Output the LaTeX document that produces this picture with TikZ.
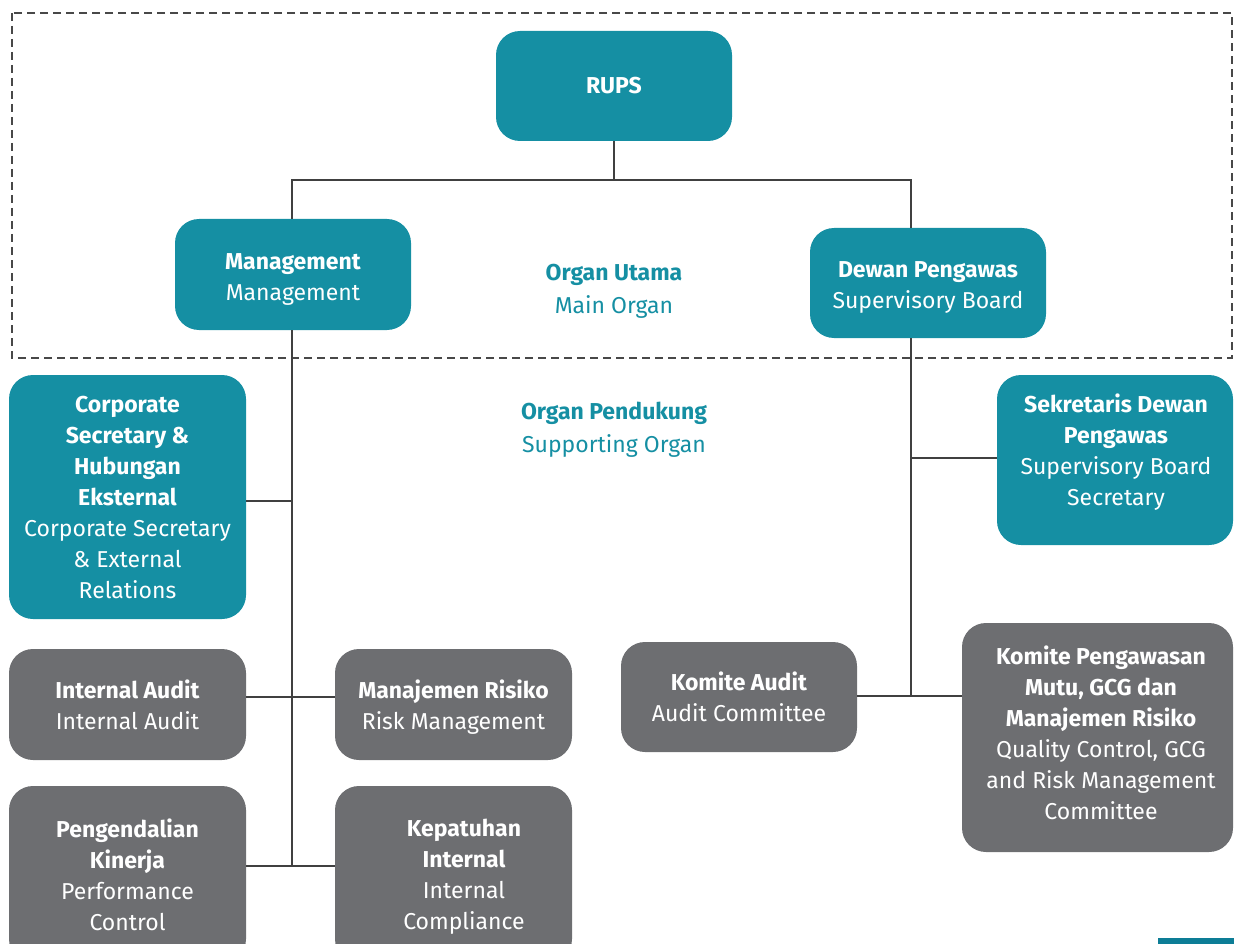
\documentclass[tikz,border=0pt]{standalone}
\usepackage{fontspec}
\setmainfont{Fira Sans}
\definecolor{tealc}{RGB}{21,143,163}
\definecolor{tealdark}{RGB}{13,125,150}
\definecolor{grayc}{RGB}{109,110,113}
\definecolor{linec}{RGB}{64,64,64}
\definecolor{dashc}{RGB}{72,72,72}
\begin{document}
\begin{tikzpicture}[x=1pt,y=-1pt,
  boxbase/.style={rectangle,rounded corners=24pt,text=white,align=center,
    font=\fontsize{23}{31}\selectfont,inner sep=0pt},
  tealbox/.style={boxbase,fill=tealc},
  graybox/.style={boxbase,fill=grayc},
  conn/.style={draw=linec,line width=2pt},
  orglabel/.style={align=center,text=tealc,font=\fontsize{23}{33}\selectfont}]
\useasboundingbox (0,0) rectangle (1234,944);
\draw[dashc,line width=2.2pt,dash pattern=on 8pt off 5pt] (12,13) rectangle (1232,358);

\node[tealbox,minimum width=236,minimum height=110] (rups) at (614,86) {\textbf{RUPS}};
\node[tealbox,minimum width=236,minimum height=111] (mgmt) at (293,274.5) {};
\node[boxbase] (mgmttext) at (293,279.5) {\textbf{Management}\\Management};
\node[tealbox,minimum width=236,minimum height=110] (dewan) at (928,283) {};
\node[boxbase] (dewantext) at (928,287) {\textbf{Dewan Pengawas}\\Supervisory Board};
\node[orglabel] (utama) at (614,291) {\textbf{Organ Utama}\\Main Organ};
\node[orglabel] (pendukung) at (614,430) {\textbf{Organ Pendukung}\\Supporting Organ};

\node[tealbox,minimum width=237,minimum height=244] (corp) at (127.5,497) {\textbf{Corporate}\\\textbf{Secretary \&}\\\textbf{Hubungan}\\\textbf{Eksternal}\\Corporate Secretary\\\& External\\Relations};
\node[tealbox,minimum width=236,minimum height=170] (sekr) at (1115,460) {};
\node[boxbase] (sekrtext) at (1116,452) {\textbf{Sekretaris Dewan}\\\textbf{Pengawas}\\Supervisory Board\\Secretary};

\node[graybox,minimum width=237,minimum height=111] (ia) at (127.5,704.5) {\textbf{Internal Audit}\\Internal Audit};
\node[graybox,minimum width=237,minimum height=111] (mr) at (453.5,704.5) {};
\node[boxbase] (mrtext) at (453.5,707.5) {\textbf{Manajemen Risiko}\\Risk Management};
\node[graybox,minimum width=237,minimum height=177] (pk) at (127.5,874.5) {\textbf{Pengendalian}\\\textbf{Kinerja}\\Performance\\Control};
\node[graybox,minimum width=237,minimum height=177] (kep) at (453.5,874.5) {};
\node[boxbase] (keptext) at (464,877) {\textbf{Kepatuhan}\\\textbf{Internal}\\Internal\\Compliance};
\node[graybox,minimum width=236,minimum height=110] (ka) at (739,697) {\textbf{Komite Audit}\\Audit Committee};
\node[graybox,minimum width=271,minimum height=229] (kpm) at (1097.5,737.5) {};
\node[boxbase] (kpmtext) at (1101,732.5) {\textbf{Komite Pengawasan}\\\textbf{Mutu, GCG dan}\\\textbf{Manajemen Risiko}\\Quality Control, GCG\\and Risk Management\\Committee};

\fill[tealdark] (1158,938) rectangle (1234,944);

\coordinate (hl) at (292,180);
\coordinate (hr) at (911,180);
\coordinate (j1) at (292,501);
\coordinate (j2) at (292,697);
\coordinate (j3) at (292,866);
\coordinate (dk) at (911,458);
\coordinate (dj) at (911,696);

\draw[conn] (rups.south) -- (rups.south |- hl);
\draw[conn] (mgmt.north -| hl) -- (hl) -- (hr) -- (hr |- dewan.north);
\draw[conn] (mgmt.south -| j3) -- (j3);
\draw[conn] (corp.east |- j1) -- (j1);
\draw[conn] (ia.east |- j2) -- (mr.west |- j2);
\draw[conn] (pk.east |- j3) -- (kep.west |- j3);
\draw[conn] (dewan.south -| dj) -- (dj);
\draw[conn] (dk) -- (sekr.west |- dk);
\draw[conn] (ka.east |- dj) -- (kpm.west |- dj);
\end{tikzpicture}
\end{document}
